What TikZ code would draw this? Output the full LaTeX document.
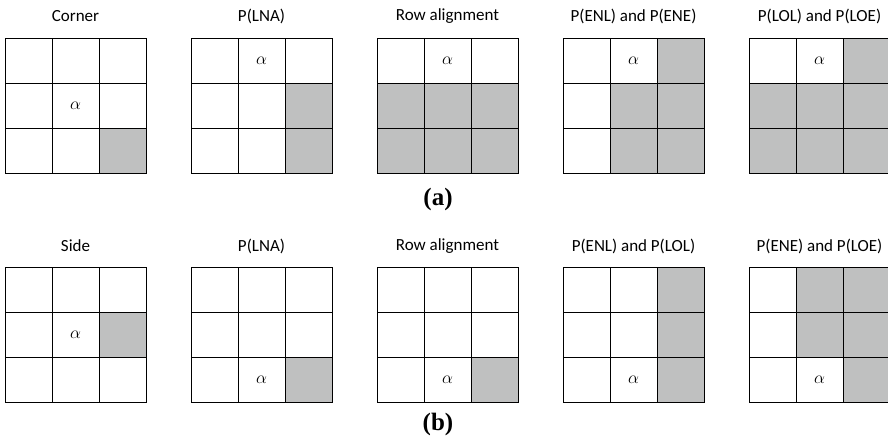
\documentclass[tikz,border=0pt]{standalone}
\usepackage{fontspec}
\setmainfont{Liberation Serif}
\newfontfamily\labelfont{Carlito}
\definecolor{CellGray}{RGB}{191,192,192}

\begin{document}
\begin{tikzpicture}[x=1pt,y=-1pt,
  cell/.style={draw,line width=0.8pt,minimum width=47pt,minimum height=45pt,inner sep=0pt,fill=#1},
  cell/.default=white,
  ttl/.style={font=\labelfont\fontsize{17}{20}\selectfont},
  sub/.style={font=\bfseries\fontsize{25}{28}\selectfont},
  sym/.style={font=\fontsize{19}{22}\selectfont}]
\useasboundingbox (0,0) rectangle (888,441);
% row (a): corner cell
\foreach \i/\t/\s/\a in {0/Corner/{9}/5, 1/P(LNA)/{6,9}/2, 2/Row alignment/{4,5,6,7,8,9}/2,
  3/P(ENL) and P(ENE)/{3,5,6,8,9}/2, 4/P(LOL) and P(LOE)/{3,4,5,6,7,8,9}/2} {
  \node[ttl] (ta\i) at (75.5+186*\i,16) {\t};
  \foreach \c in {1,...,9} {
    \pgfmathsetmacro\cx{28.5+186*\i+47*mod(\c-1,3)}
    \pgfmathsetmacro\cy{60.5+45*int((\c-1)/3)}
    \node[cell] (a\i-\c) at (\cx,\cy) {};
  }
  \foreach \c in \s
    \node[cell=CellGray] at (a\i-\c) {};
  \node[sym] at (a\i-\a) {$\alpha$};
}
\node[sub] (lab-a) at (438,199) {(a)};
% row (b): side cell
\foreach \i/\t/\s/\a in {0/Side/{6}/5, 1/P(LNA)/{9}/8, 2/Row alignment/{9}/8,
  3/P(ENL) and P(LOL)/{3,6,9}/8, 4/P(ENE) and P(LOE)/{2,3,5,6,9}/8} {
  \node[ttl] (tb\i) at (75.5+186*\i,246) {\t};
  \foreach \c in {1,...,9} {
    \pgfmathsetmacro\cx{28.5+186*\i+47*mod(\c-1,3)}
    \pgfmathsetmacro\cy{289.5+45*int((\c-1)/3)}
    \node[cell] (b\i-\c) at (\cx,\cy) {};
  }
  \foreach \c in \s
    \node[cell=CellGray] at (b\i-\c) {};
  \node[sym] at (b\i-\a) {$\alpha$};
}
\node[sub] (lab-b) at (438,424) {(b)};
\end{tikzpicture}
\end{document}
